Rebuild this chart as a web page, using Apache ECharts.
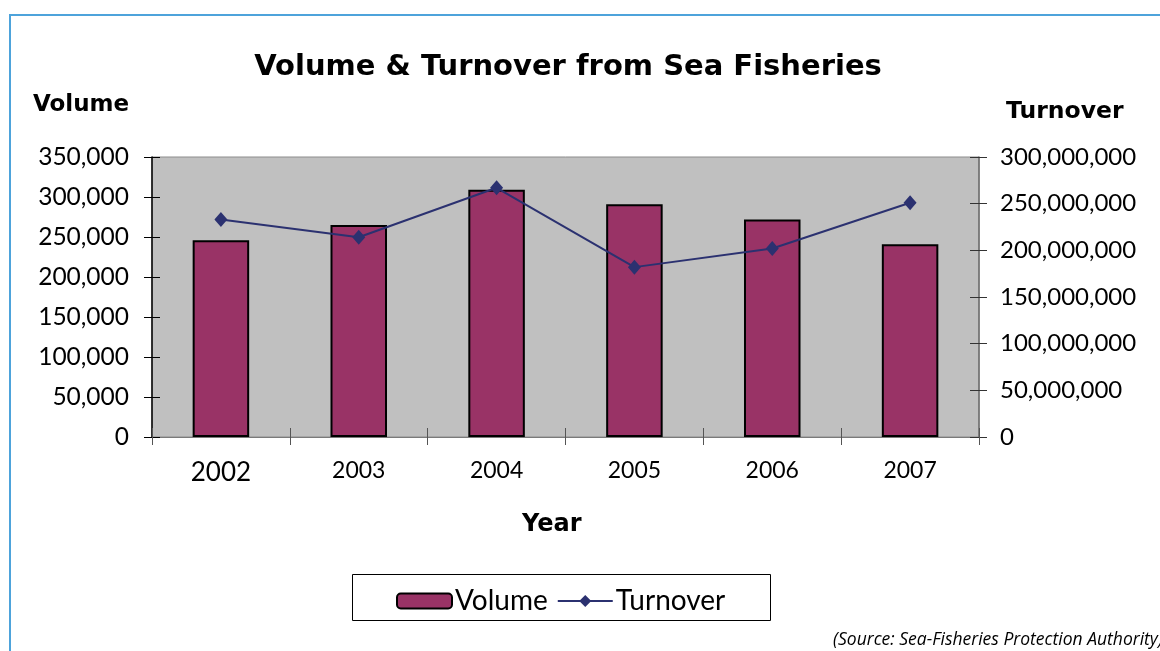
<!DOCTYPE html>
<html>
<head>
<meta charset="utf-8">
<style>
  html, body { margin: 0; padding: 0; background: #ffffff; }
  #chart { width: 1160px; height: 651px; }
</style>
<script src="https://cdn.jsdelivr.net/npm/echarts@6/dist/echarts.min.js"></script>
</head>
<body>
<div id="chart"></div>
<script>
// Sea fisheries landings: volume (bars, left axis) and turnover (line, right axis)
const years = ['2002', '2003', '2004', '2005', '2006', '2007'];
const volume = [246000, 265000, 309000, 291000, 272000, 241000];
const turnover = [233000000, 214000000, 267000000, 182000000, 202000000, 251000000];

const volumeTicks = { min: 0, max: 350000, interval: 50000 };
const turnoverTicks = { min: 0, max: 300000000, interval: 50000000 };

const FONT = 'Lato, "Open Sans", sans-serif';
const BOLD = '"DejaVu Sans", sans-serif';
const fmt = v => Math.round(v).toString().replace(/\B(?=(\d{3})+(?!\d))/g, ',');

const chart = echarts.init(document.getElementById('chart'), null, { renderer: 'canvas' });

const grid = { left: 152, right: 181, top: 157, bottom: 214 };

chart.setOption({
  backgroundColor: '#ffffff',
  animation: false,
  textStyle: { fontFamily: FONT, color: '#000' },
  title: {
    text: 'Volume & Turnover from Sea Fisheries',
    left: 563, top: 48, textAlign: 'center',
    textStyle: { fontFamily: BOLD, fontSize: 29, fontWeight: 'bold', color: '#000' }
  },
  grid: Object.assign({ show: true, backgroundColor: '#C0C0C0', borderColor: '#8c8c8c', borderWidth: 1 }, grid),
  legend: {
    left: 391, top: 582,
    itemWidth: 55, itemHeight: 15, itemGap: 9,
    textStyle: { fontFamily: FONT, fontSize: 28, color: '#000', padding: [0, 0, 0, -2] },
    data: ['Volume', 'Turnover']
  },
  xAxis: [
    {
      type: 'category', data: years, position: 'bottom',
      axisLine: { lineStyle: { color: '#7a7a7a', width: 1 } },
      axisTick: { show: true, length: 8, lineStyle: { color: '#555' } },
      axisLabel: {
        margin: 22, color: '#000', fontFamily: FONT, fontSize: 23,
        formatter: (v, i) => i === 0 ? '{big|' + v + '}' : v,
        rich: { big: { fontFamily: FONT, fontSize: 26, color: '#000', padding: [1, 0, 0, 0] } }
      }
    },
    {
      type: 'category', data: years, position: 'bottom', gridIndex: 0,
      axisLine: { show: false },
      axisTick: { show: true, inside: true, length: 9, lineStyle: { color: '#555' } },
      axisLabel: { show: false }
    }
  ],
  yAxis: [
    Object.assign({
      type: 'value', position: 'left',
      axisLine: { show: true, lineStyle: { color: '#000', width: 1.5 } },
      axisTick: { show: true, length: 8, lineStyle: { color: '#000' } },
      axisLabel: { margin: 23, color: '#000', fontFamily: FONT, fontSize: 24.5, formatter: fmt },
      splitLine: { show: false }
    }, volumeTicks),
    Object.assign({
      type: 'value', position: 'right',
      axisLine: { show: true, lineStyle: { color: '#6e6e6e', width: 1.5 } },
      axisTick: { show: true, length: 8, lineStyle: { color: '#333' } },
      axisLabel: { margin: 21, color: '#000', fontFamily: FONT, fontSize: 24, formatter: fmt },
      splitLine: { show: false }
    }, turnoverTicks),
    Object.assign({
      type: 'value', position: 'left',
      axisLine: { show: false },
      axisTick: { show: true, inside: true, length: 8, lineStyle: { color: '#000' } },
      axisLabel: { show: false }, splitLine: { show: false }
    }, volumeTicks),
    Object.assign({
      type: 'value', position: 'right',
      axisLine: { show: false },
      axisTick: { show: true, inside: true, length: 9, lineStyle: { color: '#333' } },
      axisLabel: { show: false }, splitLine: { show: false }
    }, turnoverTicks)
  ],
  series: [
    {
      name: 'Volume', type: 'bar', xAxisIndex: 0, yAxisIndex: 0,
      data: volume, barWidth: '41%',
      itemStyle: { color: '#993366', borderColor: '#000', borderWidth: 2 }
    },
    {
      name: 'Turnover', type: 'line', xAxisIndex: 0, yAxisIndex: 1,
      data: turnover,
      symbol: 'diamond', symbolSize: [13, 15],
      lineStyle: { color: '#2B3170', width: 2 },
      itemStyle: { color: '#2B3170' }
    }
  ],
  graphic: [
    { type: 'polyline', shape: { points: [[10, 651], [10, 15], [1160, 15]] },
      style: { stroke: '#4DA3DB', lineWidth: 2, fill: null } },
    { type: 'rect', shape: { x: 352.5, y: 574.5, width: 418, height: 46 },
      style: { fill: null, stroke: '#000', lineWidth: 1 }, z: -1 },
    { type: 'text', left: 33, top: 94,
      style: { text: 'Volume', font: 'bold 23px ' + BOLD, fill: '#000' } },
    { type: 'text', left: 1006, top: 100,
      style: { text: 'Turnover', font: 'bold 23.5px ' + BOLD, fill: '#000' } },
    { type: 'text', left: 522, top: 513,
      style: { text: 'Year', font: 'bold 24px ' + BOLD, fill: '#000' } },
    { type: 'text', left: 833, top: 631,
      style: { text: '(Source: Sea-Fisheries Protection Authority)', font: 'italic 17.5px "Open Sans", sans-serif', fill: '#000' } }
  ]
});
</script>
</body>
</html>
